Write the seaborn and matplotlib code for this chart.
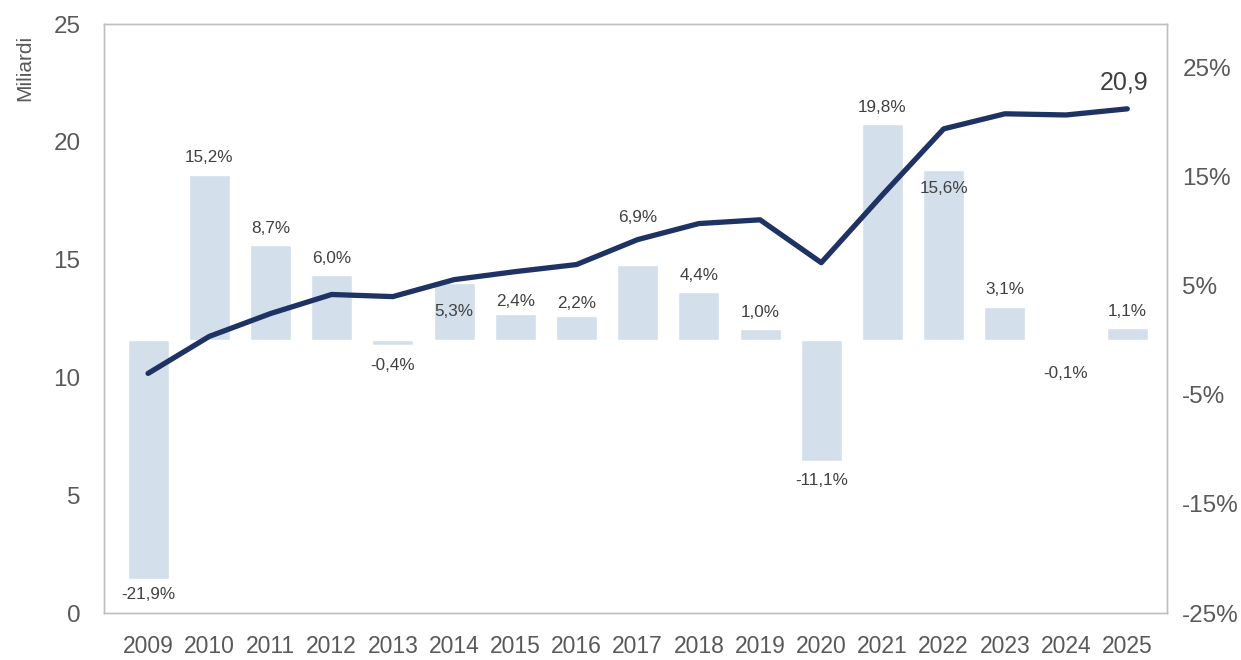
import numpy as np
import pandas as pd
import matplotlib
matplotlib.use("Agg")
import matplotlib.pyplot as plt
import seaborn as sns

# dati
anni = [str(a) for a in range(2009, 2026)]
miliardi = [10.17, 11.74, 12.71, 13.52, 13.43, 14.15, 14.49, 14.79, 15.85,
            16.53, 16.69, 14.87, 17.75, 20.55, 21.19, 21.14, 21.40]
crescita = [-21.9, 15.2, 8.7, 6.0, -0.4, 5.3, 2.4, 2.2, 6.9,
            4.4, 1.0, -11.1, 19.8, 15.6, 3.1, -0.1, 1.1]
ultimo_valore = "20,9"

# spostamento etichette (punti) rispetto alla fine della barra
offset_etichette = [-11, 12, 12, 12, -15, -21, 9, 9, 34, 12, 12, -14, 12, -13, 12, -23, 12]

df = pd.DataFrame({"Anno": anni, "Miliardi": miliardi, "Crescita": crescita})

sns.set_theme(style="white")
plt.rcParams["font.family"] = ["Liberation Sans", "DejaVu Sans"]

grigio = "#595959"
testo = "#404040"
bordo = "#bfbfbf"

fig = plt.figure(figsize=(12.41, 6.6), dpi=100)
ax = fig.add_axes([0.0838, 0.0712, 0.8566, 0.8924])
ax2 = ax.twinx()

# barre sull'asse destro, dietro la linea
ax2.set_zorder(0)
ax.set_zorder(1)
ax.patch.set_visible(False)

sns.barplot(data=df, x="Anno", y="Crescita", color="#d3dfea", saturation=1,
            width=0.67, ax=ax2)
sns.lineplot(x=np.arange(len(anni)), y=df["Miliardi"], color="#1f3264",
             linewidth=3.8, ax=ax, solid_capstyle="round")

ax.set_xlim(-0.72, 16.65)
ax.set_ylim(0, 25)
ax.set_yticks(range(0, 26, 5))
ax2.set_ylim(-25, 29)
ax2.set_yticks([-25, -15, -5, 5, 15, 25])
ax2.set_yticklabels([f"{v}%" for v in [-25, -15, -5, 5, 15, 25]])

ax.set_xticks(range(len(anni)))
ax.set_xticklabels(anni)
ax.set_xlabel("")
ax2.set_xlabel("")
ax2.set_ylabel("")
ax.set_ylabel("Miliardi", fontsize=15, color=grigio)
ax.yaxis.set_label_coords(-0.066, 0.925)

ax.tick_params(axis="y", length=0, pad=17, labelsize=17.5, labelcolor=grigio)
ax.tick_params(axis="x", length=0, pad=16, labelsize=16.5, labelcolor=grigio)
ax2.tick_params(axis="y", length=0, pad=11, labelsize=17.5, labelcolor=grigio)

for a in (ax, ax2):
    for s in a.spines.values():
        s.set_visible(True)
        s.set_color(bordo)
        s.set_linewidth(1)
    a.grid(False)

for i, v in enumerate(crescita):
    lab = f"{v:.1f}%".replace(".", ",")
    ax2.annotate(lab, (i, v), xytext=(0, offset_etichette[i]),
                 textcoords="offset points", ha="center", va="center",
                 fontsize=12.3, color=testo)

ax.annotate(ultimo_valore, (len(anni) - 1, miliardi[-1]), xytext=(-2, 19),
            textcoords="offset points", ha="center", va="center",
            fontsize=18, color=testo)

fig.savefig("out.png", dpi=100)
